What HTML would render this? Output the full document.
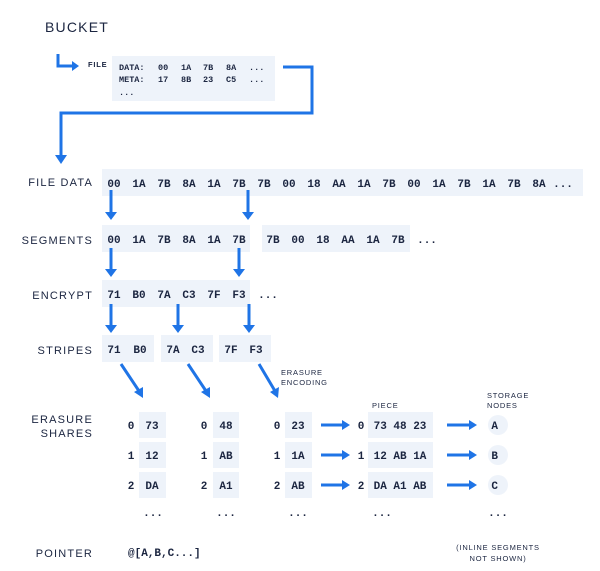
<!DOCTYPE html>
<html><head><meta charset="utf-8"><style>
html,body{margin:0;padding:0;background:#fff;}
svg{display:block}
.l{font-family:"Liberation Sans",sans-serif;font-size:11px;fill:#1b2540;letter-spacing:1.2px;font-weight:500}
.s{font-family:"Liberation Sans",sans-serif;font-size:7.5px;fill:#1b2540;letter-spacing:0.8px}
.m{font-family:"Liberation Mono",monospace;font-size:11px;font-weight:bold;fill:#1b2540}
.ms{font-family:"Liberation Mono",monospace;font-size:8.5px;font-weight:bold;fill:#1b2540}
.b{fill:#eef3fa}
.a{stroke:#1f74e6;stroke-width:3;fill:none}
.h{fill:#1f74e6}
</style></head><body>
<svg width="600" height="571" viewBox="0 0 600 571" xmlns="http://www.w3.org/2000/svg">
<text x="45" y="32" class="l" style="font-size:14px">BUCKET</text>
<!-- hook -->
<path class="a" d="M58 54 V66 H73"/><path class="h" d="M72 61 L79 66 L72 71Z"/>
<text x="88" y="67" class="s" style="font-weight:bold">FILE</text>
<rect class="b" x="112" y="56" width="163" height="45"/>
<text class="ms" y="70"><tspan x="119">DATA:</tspan><tspan x="158">00</tspan><tspan x="181">1A</tspan><tspan x="203">7B</tspan><tspan x="226">8A</tspan><tspan x="249">...</tspan></text>
<text class="ms" y="82"><tspan x="119">META:</tspan><tspan x="158">17</tspan><tspan x="181">8B</tspan><tspan x="203">23</tspan><tspan x="226">C5</tspan><tspan x="249">...</tspan></text>
<text class="ms" y="95"><tspan x="119">...</tspan></text>
<path class="a" d="M283 67 H312 V113 H61 V156"/><path class="h" d="M55 155 L61 164 L67 155Z"/>

<text x="93" y="186" class="l" text-anchor="end">FILE DATA</text>
<rect class="b" x="102" y="169" width="481" height="27"/>
<text class="m" y="187" text-anchor="middle"><tspan x="114">00</tspan><tspan x="139">1A</tspan><tspan x="164">7B</tspan><tspan x="189">8A</tspan><tspan x="214">1A</tspan><tspan x="239">7B</tspan><tspan x="264">7B</tspan><tspan x="289">00</tspan><tspan x="314">18</tspan><tspan x="339">AA</tspan><tspan x="364">1A</tspan><tspan x="389">7B</tspan><tspan x="414">00</tspan><tspan x="439">1A</tspan><tspan x="464">7B</tspan><tspan x="489">1A</tspan><tspan x="514">7B</tspan><tspan x="539">8A</tspan><tspan x="563">...</tspan></text>
<path class="a" d="M111 190 V213 M248 190 V213"/><path class="h" d="M105 212 L111 220 L117 212Z M242 212 L248 220 L254 212Z"/>

<text x="93" y="244" class="l" text-anchor="end">SEGMENTS</text>
<rect class="b" x="102" y="225" width="148" height="27"/>
<rect class="b" x="262" y="225" width="148" height="27"/>
<text class="m" y="243" text-anchor="middle"><tspan x="114">00</tspan><tspan x="139">1A</tspan><tspan x="164">7B</tspan><tspan x="189">8A</tspan><tspan x="214">1A</tspan><tspan x="239">7B</tspan><tspan x="273">7B</tspan><tspan x="298">00</tspan><tspan x="323">18</tspan><tspan x="348">AA</tspan><tspan x="373">1A</tspan><tspan x="398">7B</tspan><tspan x="427">...</tspan></text>
<path class="a" d="M111 248 V270 M239 264 V270 M239 248 V270"/><path class="h" d="M105 269 L111 277 L117 269Z M233 269 L239 277 L245 269Z"/>

<text x="93" y="299" class="l" text-anchor="end">ENCRYPT</text>
<rect class="b" x="102" y="280" width="148" height="27"/>
<text class="m" y="298" text-anchor="middle"><tspan x="114">71</tspan><tspan x="139">B0</tspan><tspan x="164">7A</tspan><tspan x="189">C3</tspan><tspan x="214">7F</tspan><tspan x="239">F3</tspan><tspan x="268">...</tspan></text>
<path class="a" d="M111 304 V326 M178 304 V326 M249 304 V326"/><path class="h" d="M105 325 L111 333 L117 325Z M172 325 L178 333 L184 325Z M243 325 L249 333 L255 325Z"/>

<text x="93" y="354" class="l" text-anchor="end">STRIPES</text>
<rect class="b" x="102" y="335" width="52" height="27"/>
<rect class="b" x="161" y="335" width="52" height="27"/>
<rect class="b" x="219" y="335" width="52" height="27"/>
<text class="m" y="353" text-anchor="middle"><tspan x="114">71</tspan><tspan x="140">B0</tspan><tspan x="173">7A</tspan><tspan x="198">C3</tspan><tspan x="231">7F</tspan><tspan x="256">F3</tspan></text>
<text class="s" x="281" y="375">ERASURE</text><text class="s" x="281" y="385">ENCODING</text>
<path class="a" d="M121 364 L139 391 M188 364 L206 391 M259 364 L275 391"/>
<path class="h" d="M134 392 L143 398 L143 387Z M201 392 L210 398 L210 387Z M270 392 L278 398 L279 387Z"/>

<text x="93" y="423" class="l" text-anchor="end">ERASURE</text>
<text x="93" y="437" class="l" text-anchor="end">SHARES</text>
<text class="s" x="372" y="408">PIECE</text>
<text class="s" x="487" y="398">STORAGE</text><text class="s" x="487" y="408">NODES</text>

<g class="b">
<rect x="139" y="412" width="27" height="26"/><rect x="139" y="442" width="27" height="26"/><rect x="139" y="472" width="27" height="26"/>
<rect x="213" y="412" width="26" height="26"/><rect x="213" y="442" width="26" height="26"/><rect x="213" y="472" width="26" height="26"/>
<rect x="285" y="412" width="27" height="26"/><rect x="285" y="442" width="27" height="26"/><rect x="285" y="472" width="27" height="26"/>
<rect x="368" y="412" width="65" height="26"/><rect x="368" y="442" width="65" height="26"/><rect x="368" y="472" width="65" height="26"/>
<circle cx="498" cy="425" r="10"/><circle cx="498" cy="455" r="10"/><circle cx="498" cy="485" r="10"/>
</g>
<text class="m" text-anchor="middle">
<tspan x="131" y="429">0</tspan><tspan x="152" y="429">73</tspan><tspan x="204" y="429">0</tspan><tspan x="226" y="429">48</tspan><tspan x="277" y="429">0</tspan><tspan x="298" y="429">23</tspan><tspan x="361" y="429">0</tspan><tspan x="400" y="429">73 48 23</tspan><tspan x="498" y="429">A</tspan>
<tspan x="131" y="459">1</tspan><tspan x="152" y="459">12</tspan><tspan x="204" y="459">1</tspan><tspan x="226" y="459">AB</tspan><tspan x="277" y="459">1</tspan><tspan x="298" y="459">1A</tspan><tspan x="361" y="459">1</tspan><tspan x="400" y="459">12 AB 1A</tspan><tspan x="498" y="459">B</tspan>
<tspan x="131" y="489">2</tspan><tspan x="152" y="489">DA</tspan><tspan x="204" y="489">2</tspan><tspan x="226" y="489">A1</tspan><tspan x="277" y="489">2</tspan><tspan x="298" y="489">AB</tspan><tspan x="361" y="489">2</tspan><tspan x="400" y="489">DA A1 AB</tspan><tspan x="498" y="489">C</tspan>
<tspan x="153" y="516">...</tspan><tspan x="226" y="516">...</tspan><tspan x="298" y="516">...</tspan><tspan x="382" y="516">...</tspan><tspan x="498" y="516">...</tspan>
</text>
<path class="a" d="M321 425 H343 M321 455 H343 M321 485 H343 M447 425 H470 M447 455 H470 M447 485 H470"/>
<path class="h" d="M342 420 L350 425 L342 430Z M342 450 L350 455 L342 460Z M342 480 L350 485 L342 490Z M469 420 L477 425 L469 430Z M469 450 L477 455 L469 460Z M469 480 L477 485 L469 490Z"/>

<text x="93" y="557" class="l" text-anchor="end">POINTER</text>
<text x="128" y="556" class="m">@[A,B,C...]</text>
<text class="s" x="498" y="550" text-anchor="middle">(INLINE SEGMENTS</text>
<text class="s" x="498" y="561" text-anchor="middle">NOT SHOWN)</text>
</svg>
</body></html>
